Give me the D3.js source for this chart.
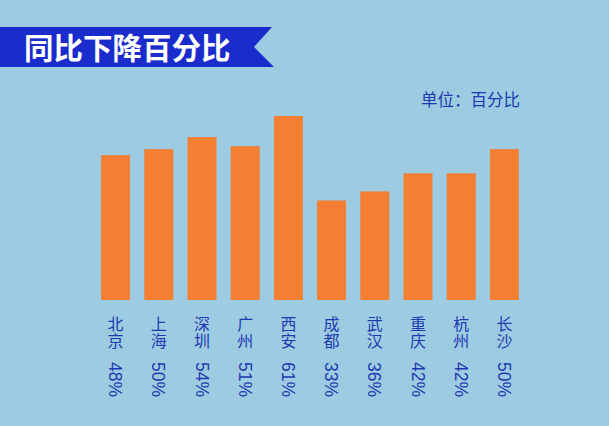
<!DOCTYPE html>
<html><head><meta charset="utf-8">
<script src="https://cdn.jsdelivr.net/npm/d3@7/dist/d3.min.js"></script>
<style>
html,body{margin:0;padding:0;background:#9dcbe1;overflow:hidden;}
svg{display:block;}
</style></head>
<body>
<svg id="chart" width="609" height="426"></svg>
<script>
const cities = ["北京","上海","深圳","广州","西安","成都","武汉","重庆","杭州","长沙"];
const values = [48,50,54,51,61,33,36,42,42,50];
const title = "同比下降百分比";
const unitLabel = "单位：百分比";

const W = 609, H = 426;
const svg = d3.select("#chart");
svg.append("rect").attr("width",W).attr("height",H).attr("fill","#9dcbe1");

// banner
svg.append("path")
  .attr("d","M0,27 L272,27 L254,47 L274,67 L0,67 Z")
  .attr("fill","#1a2ccc");
svg.append("text").attr("x",24).attr("y",59)
  .attr("font-family","'Noto Sans CJK SC','Noto Sans',sans-serif")
  .attr("font-weight","bold").attr("font-size",29.5)
  .attr("fill","#ffffff").text(title);

svg.append("text").attr("x",421).attr("y",106)
  .attr("font-family","'Noto Sans CJK SC',sans-serif")
  .attr("font-size",16.5).attr("fill","#1e3ab0").text(unitLabel);

const x = d3.scaleBand().domain(cities).range([94, 526]).paddingInner(0.33).paddingOuter(0.165);
const y = d3.scaleLinear().domain([0,61]).range([300,116]);

svg.append("g").selectAll("rect").data(cities).join("rect")
  .attr("x",d=>x(d)).attr("width",x.bandwidth())
  .attr("y",(d,i)=>y(values[i])).attr("height",(d,i)=>y(0)-y(values[i]))
  .attr("fill","#f47e31");

const lab = svg.append("g");
cities.forEach((c,i)=>{
  const cx = x(c)+x.bandwidth()/2;
  lab.append("text")
    .attr("x",cx).attr("y",316)
    .attr("style","writing-mode: vertical-rl; letter-spacing: 0.5px;")
    .attr("text-anchor","start")
    .attr("font-family","'Noto Sans CJK SC',sans-serif")
    .attr("font-size",16).attr("fill","#1e3ab0").text(c);
  lab.append("text")
    .attr("transform",`translate(${cx-6.5},362) rotate(90)`)
    .attr("text-anchor","start")
    .attr("font-family","'Liberation Sans',Arial,sans-serif")
    .attr("font-size",17.5).attr("fill","#1e3ab0")
    .text(values[i]+"%");
});
</script>
</body></html>
